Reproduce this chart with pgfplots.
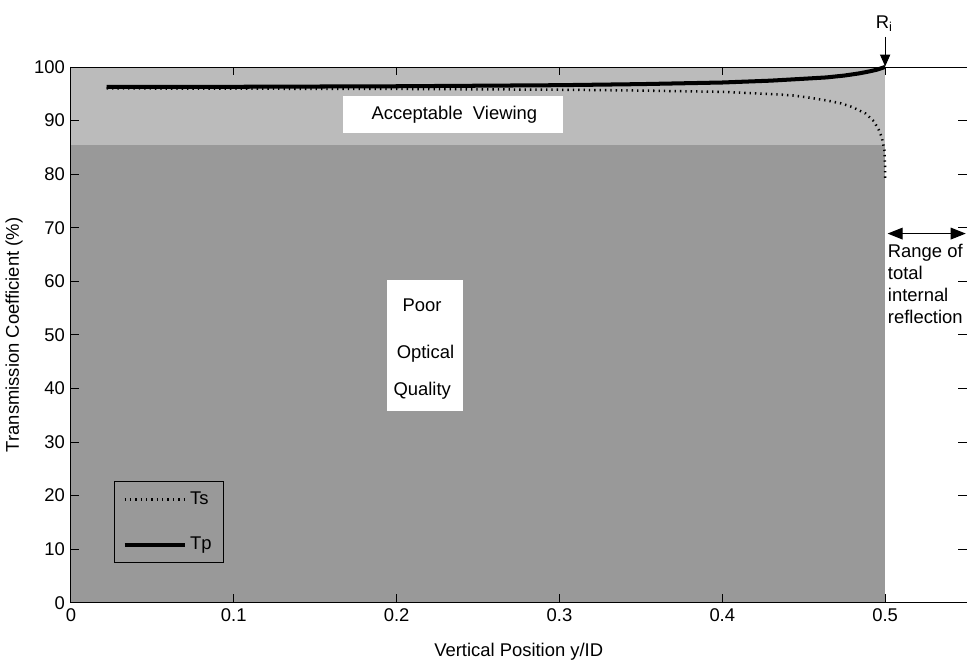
\documentclass[border=0pt]{standalone}
\usepackage{pgfplots}
\pgfplotsset{compat=1.18}
\usepackage{fontspec}
\setmainfont{Liberation Sans}
\usetikzlibrary{arrows.meta}
\definecolor{lightband}{HTML}{BBBBBB}
\definecolor{darkband}{HTML}{999999}
\newcommand{\fs}{\fontsize{11}{13}\selectfont}

\begin{document}
\begin{tikzpicture}
\begin{axis}[
  scale only axis,
  width=535pt, height=320pt,
  xmin=0, xmax=0.55, ymin=0, ymax=100,
  xtick={0,0.1,0.2,0.3,0.4,0.5},
  ytick={0,10,...,100},
  xticklabels={0,0.1,0.2,0.3,0.4,0.5},
  tick align=inside,
  tick pos=both,
  major tick length=5pt,
  tick style={black, line width=0.5pt},
  /pgf/number format/assume math mode=true,
  tick label style={font=\fs},
  axis line style={draw=none},
  axis on top,
  clip=false,
  xlabel={Vertical Position y/ID},
  xlabel style={yshift=-6pt},
  ylabel={Transmission Coefficient (\%)},
  label style={font=\fs},
  legend style={at={(0.048,0.075)}, anchor=south west, fill=none, draw=black,
    font=\fs, legend cell align=left, row sep=14pt,
    inner xsep=5pt, inner ysep=4pt},
  legend image code/.code={\draw[#1] (0pt,0pt) -- (36pt,0pt);},
]
% background bands
\addplot[draw=none, fill=lightband, forget plot] coordinates {(0,0) (0.5,0) (0.5,100) (0,100)} -- cycle;
\addplot[draw=none, fill=darkband, forget plot] coordinates {(0,0) (0.5,0) (0.5,85.5) (0,85.5)} -- cycle;
% white label boxes
\addplot[draw=none, fill=white, forget plot] coordinates {(0.167,87.6) (0.302,87.6) (0.302,94.6) (0.167,94.6)} -- cycle;
\addplot[draw=none, fill=white, forget plot] coordinates {(0.194,35.8) (0.241,35.8) (0.241,60.3) (0.194,60.3)} -- cycle;

\addplot[black, line width=1.5pt, dash pattern=on 0.8pt off 2.4pt] coordinates {
  (0.022,96.0) (0.1,95.95) (0.2,95.9) (0.3,95.75) (0.35,95.6) (0.4,95.35)
  (0.43,94.95) (0.443,94.7) (0.455,94.2) (0.465,93.7) (0.473,93.2)
  (0.48,92.5) (0.488,91.3) (0.493,89.9) (0.496,88.3) (0.498,86.8)
  (0.4995,84.5) (0.49995,82) (0.5,79.2)};
\addlegendentry{Ts}
\addplot[black, line width=2.4pt] coordinates {
  (0.022,96.3) (0.05,96.3) (0.1,96.3) (0.15,96.35) (0.2,96.4) (0.25,96.5)
  (0.3,96.6) (0.35,96.8) (0.4,97.1) (0.43,97.45) (0.45,97.8) (0.464,98.05)
  (0.475,98.4) (0.484,98.8) (0.49,99.15) (0.495,99.5) (0.5,100)};
\addlegendentry{Tp}

\node[font=\fs] at (axis cs:0.2355,91.1) {Acceptable\ \ Viewing};
\node[font=\fs, anchor=west] at (axis cs:0.2,55.5) {Poor};
\node[font=\fs, anchor=west] at (axis cs:0.1965,46.5) {Optical};
\node[font=\fs, anchor=west] at (axis cs:0.1945,39.6) {Quality};

% R_i marker
\draw[-{Triangle[length=7pt,width=6pt]}, line width=0.7pt] (axis cs:0.5,105.6) -- (axis cs:0.5,100.1);
\node[font=\fs, anchor=south, inner sep=1pt] at (axis cs:0.4995,106.2) {R\textsubscript{i}};

% range of total internal reflection
\draw[{Triangle[length=9pt,width=7pt]}-{Triangle[length=9pt,width=7pt]}, line width=0.7pt]
  (axis cs:0.5015,68.9) -- (axis cs:0.5495,68.9);
\node[font=\fs, anchor=north west, align=left, inner sep=0pt]
  at (axis cs:0.5015,66.9) {Range of\\total\\internal\\reflection};
\end{axis}
% frame: left, bottom, top only
\draw[line width=0.5pt] (current axis.north west) -- (current axis.south west) -- (current axis.south east);
\draw[line width=0.5pt] (current axis.north west) -- (current axis.north east);
% page margins as in the reference
\path (current axis.north west) ++(0,40pt) coordinate (tp);
\path (current axis.south west) ++(0,-34.6pt) coordinate (bt);
\path (tp) -- (bt);
\end{tikzpicture}
\end{document}
